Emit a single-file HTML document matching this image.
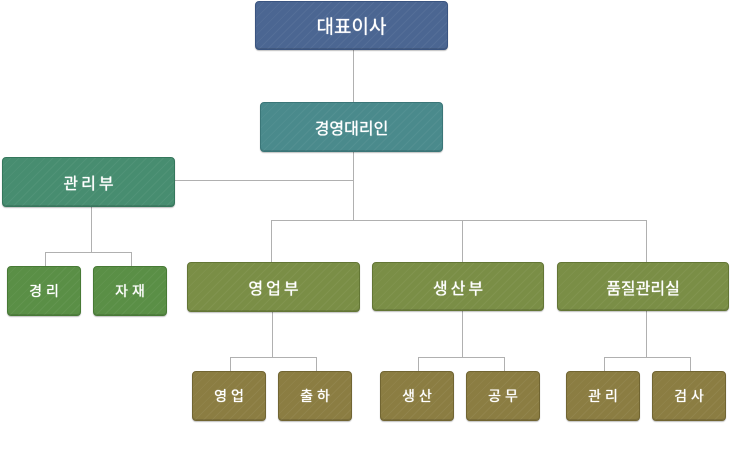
<!DOCTYPE html>
<html><head><meta charset="utf-8">
<style>
html,body{margin:0;padding:0;background:#fff;}
body{width:730px;height:452px;position:relative;overflow:hidden;font-family:"Liberation Sans","Noto Sans CJK KR","NanumGothic",sans-serif;}
.b{position:absolute;box-sizing:border-box;border-radius:4px;color:#fff;display:flex;align-items:center;justify-content:center;
background-image:repeating-linear-gradient(135deg,rgba(255,255,255,0) 0 5px,rgba(255,255,255,0.05) 5px 6px);
box-shadow:0 1px 1px rgba(0,0,0,0.25), inset 0 -1px 0 rgba(0,0,0,0.12);
text-shadow:0 0 0.6px #fff, 0 0 0.6px #fff;}
.l{position:absolute;background:#b0b0b0;}
.blue{background-color:#4b6692;border:1px solid #3a5480;}
.teal{background-color:#4a8a8c;border:1px solid #3a7678;}
.sea{background-color:#478d70;border:1px solid #35775c;}
.grn{background-color:#5a8f46;border:1px solid #477a35;}
.olv{background-color:#7a8e46;border:1px solid #637635;}
.brn{background-color:#8b7d42;border:1px solid #716532;}
.t1{font-size:19px;}
.t2{font-size:16px;}
.t3{font-size:16px;letter-spacing:3px;text-indent:3px;}
.t4{font-size:14px;letter-spacing:4px;text-indent:4px;}
</style></head><body>
<!-- lines -->
<div class="l" style="left:353px;top:50px;width:1px;height:52px"></div>
<div class="l" style="left:353px;top:152px;width:1px;height:68px"></div>
<div class="l" style="left:175px;top:180px;width:178px;height:1px"></div>
<div class="l" style="left:271px;top:220px;width:376px;height:1px"></div>
<div class="l" style="left:271px;top:220px;width:1px;height:42px"></div>
<div class="l" style="left:462px;top:220px;width:1px;height:42px"></div>
<div class="l" style="left:646px;top:220px;width:1px;height:42px"></div>
<!-- 관리부 children -->
<div class="l" style="left:91px;top:207px;width:1px;height:45px"></div>
<div class="l" style="left:45px;top:252px;width:87px;height:1px"></div>
<div class="l" style="left:45px;top:252px;width:1px;height:14px"></div>
<div class="l" style="left:131px;top:252px;width:1px;height:14px"></div>
<!-- 영업부 children -->
<div class="l" style="left:272px;top:312px;width:1px;height:45px"></div>
<div class="l" style="left:230px;top:357px;width:87px;height:1px"></div>
<div class="l" style="left:230px;top:357px;width:1px;height:14px"></div>
<div class="l" style="left:316px;top:357px;width:1px;height:14px"></div>
<!-- 생산부 children -->
<div class="l" style="left:462px;top:311px;width:1px;height:46px"></div>
<div class="l" style="left:418px;top:357px;width:87px;height:1px"></div>
<div class="l" style="left:418px;top:357px;width:1px;height:14px"></div>
<div class="l" style="left:504px;top:357px;width:1px;height:14px"></div>
<!-- 품질관리실 children -->
<div class="l" style="left:646px;top:311px;width:1px;height:46px"></div>
<div class="l" style="left:604px;top:357px;width:87px;height:1px"></div>
<div class="l" style="left:604px;top:357px;width:1px;height:14px"></div>
<div class="l" style="left:690px;top:357px;width:1px;height:14px"></div>

<!-- boxes -->
<div class="b blue t1" style="left:255px;top:1px;width:193px;height:49px">대표이사</div>
<div class="b teal t2" style="left:260px;top:102px;width:183px;height:50px">경영대리인</div>
<div class="b sea t3" style="left:2px;top:157px;width:173px;height:50px">관리부</div>
<div class="b grn t4" style="left:7px;top:266px;width:74px;height:50px">경리</div>
<div class="b grn t4" style="left:93px;top:266px;width:74px;height:50px">자재</div>
<div class="b olv t3" style="left:187px;top:262px;width:173px;height:50px">영업부</div>
<div class="b olv t3" style="left:372px;top:262px;width:172px;height:49px">생산부</div>
<div class="b olv t2" style="left:557px;top:262px;width:172px;height:49px">품질관리실</div>
<div class="b brn t4" style="left:192px;top:371px;width:74px;height:50px">영업</div>
<div class="b brn t4" style="left:278px;top:371px;width:74px;height:50px">출하</div>
<div class="b brn t4" style="left:380px;top:371px;width:74px;height:50px">생산</div>
<div class="b brn t4" style="left:466px;top:371px;width:74px;height:50px">공무</div>
<div class="b brn t4" style="left:566px;top:371px;width:74px;height:50px">관리</div>
<div class="b brn t4" style="left:652px;top:371px;width:74px;height:50px">검사</div>
</body></html>
